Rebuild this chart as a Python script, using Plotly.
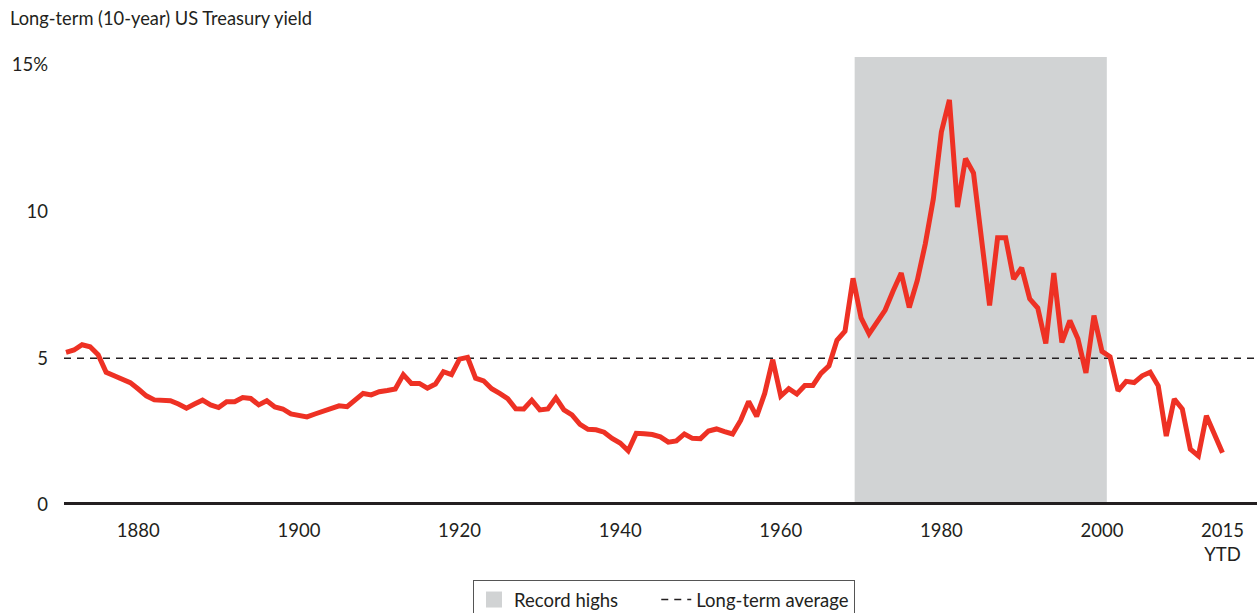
import plotly.graph_objects as go

# ---- data ----
YEARS = list(range(1871, 2016))
YIELD = [
    5.20, 5.28, 5.46, 5.39, 5.12, 4.52, 4.40, 4.29, 4.17,            # 1871-1879
    3.95, 3.72, 3.58, 3.55, 3.55, 3.44, 3.30, 3.44, 3.57, 3.41,      # 1880-1889
    3.32, 3.52, 3.52, 3.66, 3.63, 3.41, 3.55, 3.34, 3.27, 3.10,      # 1890-1899
    3.04, 3.00, 3.10, 3.18, 3.29, 3.38, 3.35, 3.57, 3.80, 3.75,      # 1900-1909
    3.86, 3.90, 3.95, 4.44, 4.14, 4.14, 3.98, 4.12, 4.54, 4.44,      # 1910-1919
    4.97, 5.03, 4.32, 4.23, 3.96, 3.80, 3.62, 3.28, 3.27, 3.57,      # 1920-1929
    3.24, 3.27, 3.65, 3.24, 3.07, 2.75, 2.58, 2.56, 2.48, 2.27,      # 1930-1939
    2.11, 1.85, 2.44, 2.43, 2.40, 2.32, 2.14, 2.18, 2.42, 2.27,      # 1940-1949
    2.26, 2.52, 2.59, 2.50, 2.42, 2.88, 3.53, 3.02, 3.80, 4.95,      # 1950-1959
    3.71, 3.96, 3.78, 4.07, 4.07, 4.48, 4.74, 5.61, 5.92, 7.72,      # 1960-1969
    6.37, 5.83, 6.26, 6.64, 7.30, 7.90, 6.73, 7.65, 8.90, 10.43,     # 1970-1979
    12.71, 13.80, 10.15, 11.80, 11.31, 8.90, 6.80, 9.10, 9.10, 7.70, # 1980-1989
    8.08, 7.02, 6.71, 5.50, 7.90, 5.54, 6.28, 5.66, 4.50, 6.45,      # 1990-1999
    5.23, 5.05, 3.89, 4.21, 4.17, 4.40, 4.52, 4.06, 2.35, 3.61,      # 2000-2009
    3.27, 1.90, 1.67, 3.04, 2.39, 1.78,                              # 2010-2015
]
LONG_TERM_AVG = 5.0
RECORD_START = 1969.2
RECORD_END = 2000.6

X_TICKS = [1880, 1900, 1920, 1940, 1960, 1980, 2000, 2015]
X_TICK_LABELS = ["1880", "1900", "1920", "1940", "1960", "1980", "2000", "2015<br>YTD"]
Y_TICKS = [0, 5, 10, 15]
Y_TICK_LABELS = ["0", "5", "10", "15%"]

X_RANGE = [1870.75, 2019.3]
Y_RANGE = [0, 15.26]

# ---- styling ----
FONT = "Lato"
TEXT = "#231f20"
RED = "#ee3124"
GREY = "#d1d3d4"
NBSP = "\u00a0"

fig = go.Figure()

# Record-high shading
fig.add_shape(type="rect", xref="x", yref="paper",
              x0=RECORD_START, x1=RECORD_END, y0=0, y1=1,
              fillcolor=GREY, line_width=0, layer="below")

# Legend proxy for the shading (padded with non-breaking spaces for item spacing)
fig.add_trace(go.Scatter(x=[None], y=[None], mode="markers",
                         name="Record highs" + NBSP * 7,
                         marker=dict(symbol="square", size=20, color=GREY),
                         hoverinfo="skip"))

# Long-term average
fig.add_trace(go.Scatter(x=X_RANGE, y=[LONG_TERM_AVG, LONG_TERM_AVG], mode="lines",
                         name="Long-term average",
                         line=dict(color="#231f20", width=1.5, dash="7px,6px"),
                         hoverinfo="skip"))

# Yield line
fig.add_trace(go.Scatter(x=YEARS, y=YIELD, mode="lines", name="Yield",
                         showlegend=False,
                         line=dict(color=RED, width=5)))

# thick baseline at zero
fig.add_shape(type="line", xref="paper", yref="y", x0=0, x1=1, y0=0, y1=0,
              line=dict(color=TEXT, width=6), layer="above")

# chart heading
fig.add_annotation(text="Long-term (10-year) US Treasury yield",
                   xref="paper", yref="paper",
                   x=(8 - 64) / 1193, xanchor="left",
                   y=(504 - 18) / 447, yanchor="middle",
                   showarrow=False, font=dict(family=FONT, size=18.3, color=TEXT))

fig.update_layout(
    width=1257, height=613,
    margin=dict(l=64, r=0, t=57, b=108, autoexpand=False),
    paper_bgcolor="white", plot_bgcolor="white",
    font=dict(family=FONT, size=18, color=TEXT),
    xaxis=dict(range=X_RANGE, tickvals=X_TICKS, ticktext=X_TICK_LABELS,
               showgrid=False, zeroline=False, showline=False, ticks="",
               ticklabelstandoff=12, tickfont=dict(size=18.5), automargin=False),
    yaxis=dict(range=Y_RANGE, tickvals=Y_TICKS, ticktext=Y_TICK_LABELS,
               showgrid=False, zeroline=False, showline=False, ticks="",
               ticklabelstandoff=15, tickfont=dict(size=18.5), automargin=False),
    legend=dict(orientation="h", x=(473 - 64) / 1193, xanchor="left",
                y=(505 - 580) / 448, yanchor="top",
                bordercolor="#555", borderwidth=1, bgcolor="white",
                font=dict(size=18.5, color=TEXT), itemsizing="trace"),
    showlegend=True,
)

fig.write_html(
    "out.html",
    config={"displayModeBar": False},
    post_script="document.body.style.margin='0';document.body.style.overflow='hidden';",
)
